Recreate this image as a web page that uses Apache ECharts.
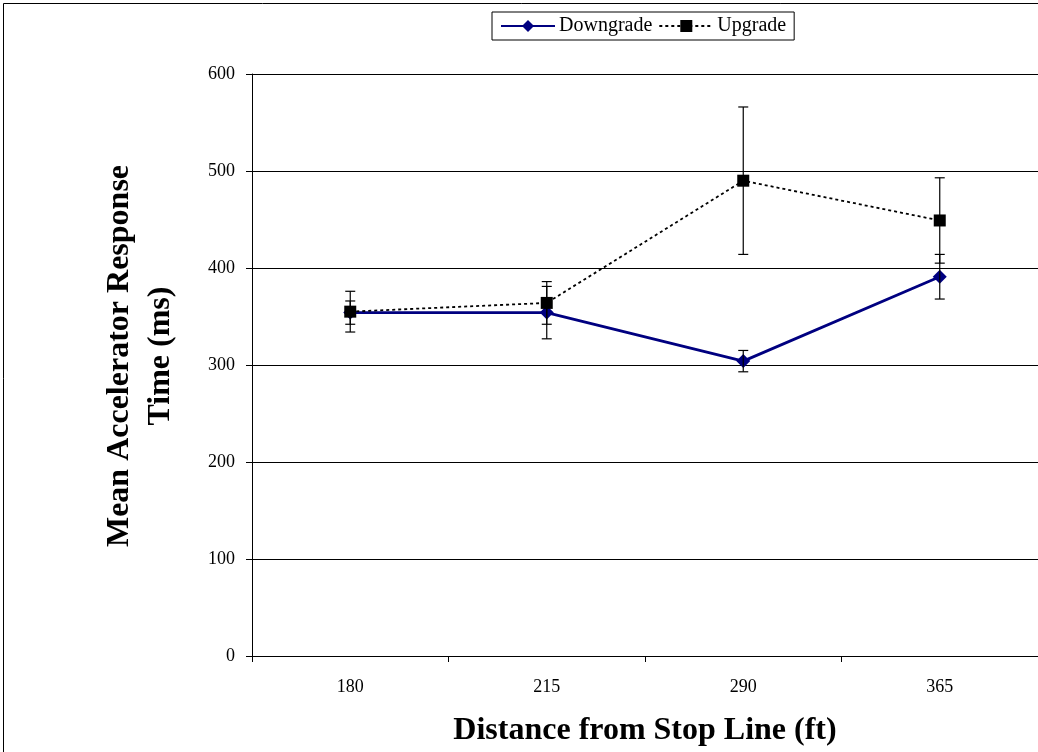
<!DOCTYPE html>
<html>
<head>
<meta charset="utf-8">
<style>
  html, body { margin: 0; padding: 0; background: #fff; }
  #chart { width: 1038px; height: 752px; }
</style>
<script src="https://cdn.jsdelivr.net/npm/echarts@6/dist/echarts.min.js"></script>
</head>
<body>
<div id="chart"></div>
<script>
// Distance categories (ft)
const distances = ['180', '215', '290', '365'];

// Mean accelerator response time (ms) and half-width of the error bars
const downgradeMean = [354, 354, 304, 391];
const downgradeErr  = [12, 27, 11, 23];
const upgradeMean   = [355, 364, 490, 449];
const upgradeErr    = [21, 22, 76, 44];

const serif = '"Liberation Serif", "Times New Roman", serif';

// Build [categoryIndex, low, high] rows for an error-bar custom series
function errorRows(mean, err) {
  return mean.map((m, i) => [i, m - err[i], m + err[i]]);
}

function renderErrorBar(params, api) {
  const x = api.value(0);
  const lo = api.coord([x, api.value(1)]);
  const hi = api.coord([x, api.value(2)]);
  const half = 5;
  const style = { stroke: '#000', lineWidth: 1.2, fill: null };
  return {
    type: 'group',
    children: [
      { type: 'line', shape: { x1: hi[0], y1: hi[1], x2: lo[0], y2: lo[1] }, style },
      { type: 'line', shape: { x1: hi[0] - half, y1: hi[1], x2: hi[0] + half, y2: hi[1] }, style },
      { type: 'line', shape: { x1: lo[0] - half, y1: lo[1], x2: lo[0] + half, y2: lo[1] }, style }
    ]
  };
}

const chart = echarts.init(document.getElementById('chart'), null, { renderer: 'canvas' });

chart.setOption({
  backgroundColor: '#fff',
  animation: false,
  textStyle: { fontFamily: serif },
  graphic: [
    {
      type: 'rect',
      shape: { x: 3.5, y: 3.5, width: 1200, height: 900 },
      style: { fill: null, stroke: '#000', lineWidth: 1 },
      silent: true
    }
  ],
  legend: {
    top: 12,
    left: 492,
    data: ['Downgrade', 'Upgrade'],
    itemWidth: 54,
    itemHeight: 15,
    itemGap: 6,
    padding: [4, 8, 4, 8],
    borderColor: '#000',
    borderWidth: 1,
    textStyle: { fontFamily: serif, fontSize: 20, color: '#000', padding: [0, 0, 0, -1] }
  },
  grid: { left: 252, right: 0, top: 74, bottom: 96, containLabel: false },
  xAxis: {
    type: 'category',
    data: distances,
    boundaryGap: true,
    name: 'Distance from Stop Line (ft)',
    nameLocation: 'middle',
    nameGap: 59,
    nameTextStyle: { fontFamily: serif, fontSize: 32, fontWeight: 'bold', color: '#000', verticalAlign: 'top' },
    axisLine: { lineStyle: { color: '#000', width: 1 } },
    axisTick: { show: true, length: 6, lineStyle: { color: '#000' } },
    axisLabel: { margin: 22, fontFamily: serif, fontSize: 18, color: '#000' },
    splitLine: { show: false }
  },
  yAxis: {
    type: 'value',
    min: 0,
    max: 600,
    interval: 100,
    name: 'Mean Accelerator Response\nTime (ms)',
    nameLocation: 'middle',
    nameRotate: 90,
    nameGap: 71,
    nameTextStyle: {
      fontFamily: serif, fontSize: 32, fontWeight: 'bold', color: '#000',
      lineHeight: 41, padding: [0, 0, 0, 18]
    },
    axisLine: { show: true, lineStyle: { color: '#000', width: 1 } },
    axisTick: { show: true, length: 6, lineStyle: { color: '#000' } },
    axisLabel: { margin: 17, fontFamily: serif, fontSize: 18, color: '#000' },
    splitLine: { show: true, lineStyle: { color: '#000', width: 1 } }
  },
  series: [
    {
      name: 'Downgrade',
      type: 'line',
      data: downgradeMean,
      symbol: 'diamond',
      symbolSize: 14,
      itemStyle: { color: '#000080' },
      lineStyle: { color: '#000080', width: 2.8 },
      z: 3
    },
    {
      name: 'Upgrade',
      type: 'line',
      data: upgradeMean,
      symbol: 'rect',
      symbolSize: 12,
      itemStyle: { color: '#000' },
      lineStyle: { color: '#000', width: 1.8, type: [3, 3] },
      z: 3
    },
    {
      type: 'custom',
      renderItem: renderErrorBar,
      data: errorRows(downgradeMean, downgradeErr),
      encode: { x: 0, y: [1, 2] },
      z: 4,
      silent: true
    },
    {
      type: 'custom',
      renderItem: renderErrorBar,
      data: errorRows(upgradeMean, upgradeErr),
      encode: { x: 0, y: [1, 2] },
      z: 4,
      silent: true
    }
  ]
});
</script>
</body>
</html>
